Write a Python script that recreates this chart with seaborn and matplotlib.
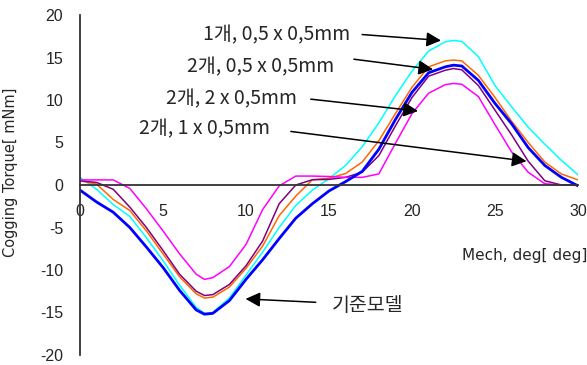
import numpy as np
import pandas as pd
import matplotlib
matplotlib.use("Agg")
import matplotlib.pyplot as plt
import seaborn as sns

# 기계각 (deg) - 모든 곡선이 같은 x 격자를 씀
mech_deg = [0, 1, 2, 3, 4, 5, 6, 7, 7.5, 8, 9, 10, 11, 12, 13, 14, 15,
            16, 17, 18, 19, 20, 21, 22, 22.5, 23, 24, 25, 26, 27, 28, 29, 30]

# 코깅 토크 [mNm], 그림에서 읽은 값
base_model = [-0.6, -2.0, -3.2, -5.0, -7.3, -9.7, -12.4, -14.7, -15.2, -15.1, -13.6, -11.1,
              -8.8, -6.3, -3.9, -2.2, -0.7, 0.4, 1.6, 4.2, 7.7, 10.9, 13.2, 13.9, 14.1,
              14.0, 12.3, 9.6, 7.2, 4.4, 2.3, 0.9, -0.1]
one_05x05 = [0.9, -0.5, -2.3, -3.7, -6.2, -8.9, -11.8, -14.4, -15.1, -15.0, -13.3, -10.6,
             -7.9, -5.0, -2.4, -0.6, 0.75, 2.3, 4.5, 7.3, 10.5, 13.4, 15.75, 16.85, 17.0,
             16.9, 15.1, 11.7, 9.2, 6.8, 4.8, 2.9, 1.2]
two_05x05 = [0.5, 0.1, -1.7, -3.0, -5.4, -8.1, -10.8, -12.8, -13.3, -13.2, -12.0, -9.8,
             -7.2, -3.6, -1.3, 0.62, 0.8, 1.35, 2.7, 5.2, 8.4, 11.5, 13.9, 14.6, 14.7,
             14.6, 12.9, 10.3, 7.5, 5.0, 2.7, 1.3, 0.6]
two_2x05 = [0.5, 0.3, -0.5, -2.6, -5.0, -7.7, -10.5, -12.5, -13.0, -12.9, -11.7, -9.5,
            -6.6, -2.2, 0.0, 0.62, 0.66, 0.9, 1.5, 3.45, 6.95, 10.3, 12.8, 13.5, 13.7,
            13.55, 11.7, 8.8, 5.9, 2.8, 0.5, 0.0, 0.0]
two_1x05 = [0.6, 0.6, 0.6, -0.4, -2.8, -5.4, -8.1, -10.5, -11.1, -10.9, -9.6, -7.0,
            -2.9, -0.1, 1.05, 1.05, 1.0, 0.9, 0.9, 1.3, 4.9, 8.4, 10.8, 11.8, 11.95,
            11.85, 10.4, 7.1, 3.9, 1.5, 0.15, 0.0, 0.0]

series_names = ["1개, 0,5 x 0,5mm", "2개, 0,5 x 0,5mm", "2개, 2 x 0,5mm",
                "2개, 1 x 0,5mm", "기준모델"]
series_values = [one_05x05, two_05x05, two_2x05, two_1x05, base_model]
series_colors = ["#00FFFF", "#FF6600", "#800080", "#FF00FF", "#0000FF"]
series_widths = [1.1, 1.1, 1.1, 1.1, 2.0]

# 라벨 위치 (데이터 좌표) 와 화살표 시작/끝
label_pos = [(11.84, 17.7), (10.88, 13.95), (9.12, 10.2), (7.49, 6.6), (17.34, -14.2)]
arrow_start = [(17.0, 17.7), (16.5, 14.8), (13.9, 10.1), (12.7, 6.3), (14.2, -13.8)]
arrow_tip = [(21.75, 17.0), (21.27, 13.6), (20.36, 8.7), (26.9, 2.8), (9.97, -13.4)]

rows = []
for name, vals in zip(series_names, series_values):
    for x, y in zip(mech_deg, vals):
        rows.append({"deg": x, "torque": y, "model": name})
df = pd.DataFrame(rows)

sns.set_style("white")
plt.rcParams["axes.unicode_minus"] = False
plt.rcParams["font.family"] = ["DejaVu Sans"]
kr_font = ["Noto Sans CJK KR", "DejaVu Sans"]

fig = plt.figure(figsize=(5.87, 3.65), dpi=100)
ax = fig.add_axes([80 / 587, 10 / 365, 498 / 587, 340 / 365])

for name, col, lw in zip(series_names, series_colors, series_widths):
    sns.lineplot(data=df[df["model"] == name], x="deg", y="torque", color=col,
                 linewidth=lw, ax=ax, legend=False)

ax.set_xlim(0, 30)
ax.set_ylim(-20, 20)
ax.set_xticks(np.arange(0, 31, 5))
ax.set_yticks(np.arange(-20, 21, 5))

# 축 모양: x축은 0 위치, 위/오른쪽 없음
ax.spines["bottom"].set_position(("data", 0))
ax.spines["top"].set_visible(False)
ax.spines["right"].set_visible(False)
for sp in ["left", "bottom"]:
    ax.spines[sp].set_color("#333333")
    ax.spines[sp].set_linewidth(1.3)

ax.tick_params(axis="y", direction="in", length=4, width=1.2, color="#333333",
               pad=12, labelsize=11.5)
ax.tick_params(axis="x", direction="in", length=3, width=1.2, color="#333333",
               pad=14, labelsize=11.5)
for lab in ax.get_xticklabels() + ax.get_yticklabels():
    lab.set_family("Liberation Sans")

ax.set_xlabel("")
ax.set_ylabel("Cogging Torque[ mNm]", fontsize=10.5)
ax.yaxis.set_label_coords(-0.1245, 0.538)
ax.text(30.57, -8.3, "Mech, deg[ deg]", fontsize=11, ha="right", va="center")

for name, (tx, ty), st, tip in zip(series_names, label_pos, arrow_start, arrow_tip):
    ax.text(tx, ty, name, fontsize=14, family=kr_font, ha="center", va="center")
    ax.annotate("", xy=tip, xytext=st,
                arrowprops=dict(arrowstyle="-|>", mutation_scale=22, lw=1.1,
                                color="black", shrinkA=0, shrinkB=0))

fig.savefig("out.png", dpi=100)
